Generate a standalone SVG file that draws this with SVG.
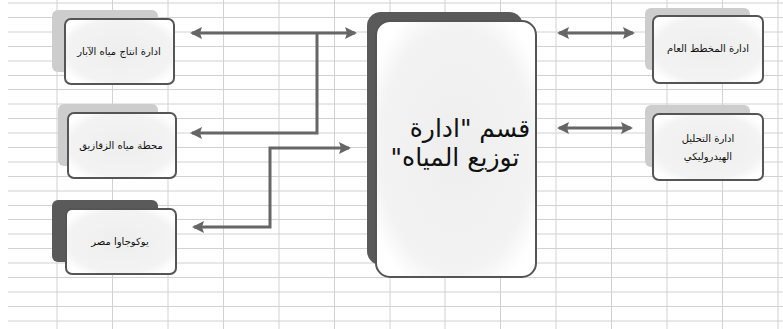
<svg xmlns="http://www.w3.org/2000/svg" width="783" height="329" viewBox="0 0 783 329">
<style>
.grid{stroke:#d2d2d2;stroke-width:1;fill:none}
.sh-l{fill:#cdcdcd}
.sh-d{fill:#5a5a5a}
.box{fill:url(#boxfill);stroke:#555;stroke-width:2}
.t{font-family:"DejaVu Sans",sans-serif;font-size:10px;fill:#111;text-anchor:middle;direction:rtl}
.tb{font-family:"DejaVu Sans",sans-serif;font-size:25px;fill:#111;text-anchor:middle;direction:rtl}
.conn{stroke:#666;stroke-width:3;fill:none}
</style>
<defs>
<radialGradient id="boxfill" cx="50%" cy="50%" r="60%">
<stop offset="0" stop-color="#eeeeee"/>
<stop offset="0.8" stop-color="#f3f3f3"/>
<stop offset="1" stop-color="#ffffff"/>
</radialGradient>
<marker id="ah" markerUnits="userSpaceOnUse" markerWidth="14" markerHeight="14" refX="10" refY="7" orient="auto-start-reverse">
<path d="M0,1 L12,7 L0,13 L2,7 z" fill="#666"/>
</marker>
</defs>
<rect x="0" y="0" width="783" height="329" fill="#ffffff"/>
<g id="grid">
<path class="grid" d="M8 3H783M8 17.5H783M8 32H783M8 46.5H783M8 61H783M8 75.5H783M8 89.5H783M8 104H783M8 118.5H783M8 133H783M8 147.5H783M8 162H783M8 176.5H783M8 191H783M8 205.5H783M8 219.5H783M8 234H783M8 248.5H783M8 263H783M8 277.5H783M8 292H783M8 306.5H783M8 321H783"/>
<path class="grid" d="M57 0V329M112.5 0V329M168 0V329M223.5 0V329M279 0V329M334.5 0V329M390 0V329M445 0V329M500.5 0V329M556 0V329M611.5 0V329M667 0V329M722.5 0V329M778 0V329"/>
</g>
<g id="connectors">
<path class="conn" d="M192 33H355" marker-start="url(#ah)" marker-end="url(#ah)"/>
<path class="conn" d="M317 33V133H192" marker-end="url(#ah)"/>
<path class="conn" d="M349 148H270V227H194" marker-start="url(#ah)" marker-end="url(#ah)"/>
<path class="conn" d="M559 33H633" marker-start="url(#ah)" marker-end="url(#ah)"/>
<path class="conn" d="M559 128H631" marker-start="url(#ah)" marker-end="url(#ah)"/>
</g>
<g id="node-wells">
<rect class="sh-l" x="52" y="10" width="106" height="62" rx="6"/>
<rect class="box" x="65" y="19" width="109" height="65" rx="6"/>
<text class="t" x="119" y="55">ادارة انتاج مياه الآبار</text>
</g>
<g id="node-zagazig">
<rect class="sh-l" x="58" y="104" width="100" height="62" rx="6"/>
<rect class="box" x="68" y="113" width="108" height="65" rx="6"/>
<text class="t" x="121" y="149">محطة مياه الزقازيق</text>
</g>
<g id="node-yokogawa">
<rect class="sh-d" x="52" y="200" width="106" height="62" rx="6"/>
<rect class="box" x="66" y="209" width="110" height="65" rx="6"/>
<text class="t" x="120" y="245">يوكوجاوا مصر</text>
</g>
<g id="node-center">
<rect class="sh-d" x="367" y="12" width="156" height="253" rx="14"/>
<rect class="box" x="376" y="21" width="160" height="256" rx="14"/>
<text class="tb" x="470" y="137">قسم "ادارة</text>
<text class="tb" x="455" y="166">توزيع المياه"</text>
</g>
<g id="node-masterplan">
<rect class="sh-l" x="645" y="8" width="105" height="62" rx="6"/>
<rect class="box" x="653" y="16" width="110" height="67" rx="6"/>
<text class="t" x="708" y="52">ادارة المخطط العام</text>
</g>
<g id="node-hydraulic">
<rect class="sh-l" x="645" y="105" width="105" height="62" rx="6"/>
<rect class="box" x="653" y="114" width="110" height="66" rx="6"/>
<text class="t" x="708" y="142">ادارة التحليل</text>
<text class="t" x="708" y="160">الهيدروليكي</text>
</g>
</svg>
